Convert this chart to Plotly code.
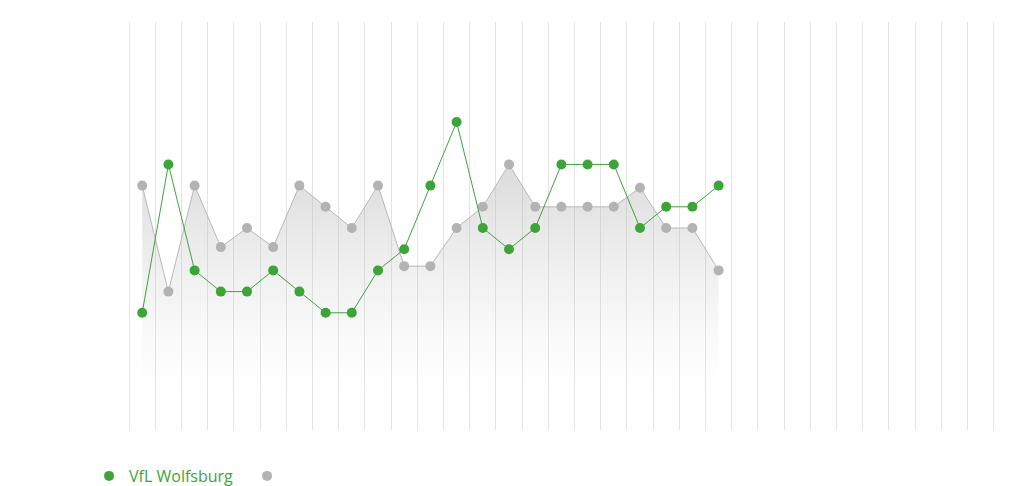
import plotly.graph_objects as go

matchdays = list(range(1, 24))
wolfsburg = [14, 7, 12, 13, 13, 12, 13, 14, 14, 12, 11, 8, 5, 10, 11, 10, 7, 7, 7, 10, 9, 9, 8]
comparison = [8, 13, 8, 10.9, 10, 10.9, 8, 9, 10, 8, 11.8, 11.8, 10, 9, 7, 9, 9, 9, 9, 8.1, 10, 10, 12]
baseline = [17.6] * len(matchdays)
grid_edges = [i + 0.5 for i in range(0, 35)]

GREEN = "#3ea43a"
GRAY = "#b3b3b3"

fig = go.Figure()
fig.add_trace(go.Scatter(x=matchdays, y=baseline, mode="lines", line=dict(width=0),
                         showlegend=False, hoverinfo="skip"))
fig.add_trace(go.Scatter(
    x=matchdays, y=comparison, mode="lines+markers", name=" ",
    line=dict(color="#b8b8b8", width=1),
    marker=dict(color=GRAY, size=10),
    fill="tonexty",
    fillgradient=dict(type="vertical", start=7, stop=17.6,
                      colorscale=[[0, "rgba(160,160,160,0.38)"], [1, "rgba(200,200,200,0)"]]),
    showlegend=False,
))
fig.add_trace(go.Scatter(
    x=matchdays, y=wolfsburg, mode="lines+markers", name="VfL Wolfsburg",
    line=dict(color=GREEN, width=1),
    marker=dict(color=GREEN, size=10),
    showlegend=False,
))
# legend-only entries (dots only)
fig.add_trace(go.Scatter(x=[None], y=[None], mode="markers", name="VfL Wolfsburg",
                         marker=dict(color=GREEN, size=10)))
fig.add_trace(go.Scatter(x=[None], y=[None], mode="markers", name=" ",
                         marker=dict(color=GRAY, size=10)))

fig.update_layout(
    width=1014, height=478,
    margin=dict(l=119, r=0, t=14, b=56, autoexpand=False),
    plot_bgcolor="white", paper_bgcolor="white",
    font=dict(family="Open Sans", size=16, color=GREEN),
    showlegend=True,
    legend=dict(orientation="h", x=-0.0424, xanchor="left", y=-0.1127, yanchor="middle",
                font=dict(color=GREEN, size=16), itemclick=False, traceorder="normal",
                entrywidth=113, entrywidthmode="pixels"),
    xaxis=dict(range=[0.42, 34.58], tickmode="array", tickvals=grid_edges,
               showticklabels=False, showgrid=True, gridcolor="#e4e4e4", gridwidth=1,
               zeroline=False, showline=False, ticks=""),
    yaxis=dict(range=[19.53, 0.28], showticklabels=False, showgrid=False,
               zeroline=False, showline=False, ticks=""),
)

fig.write_html("out.html")
